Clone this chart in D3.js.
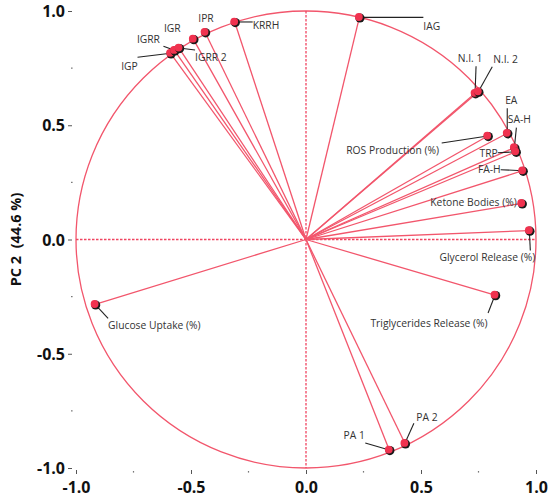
<!DOCTYPE html>
<html>
<head>
<meta charset="utf-8">
<script src="https://cdn.jsdelivr.net/npm/d3@7"></script>
<style>
  body { margin: 0; background: #fff; }
  svg text { font-family: "Open Sans", "Noto Sans", sans-serif; }
</style>
</head>
<body>
<div id="chart"></div>
<script>
  // variable loadings on PC1 / PC2
  var names = ['IGP', 'IGRR', 'IGRR 2', 'IGR', 'IPR', 'KRRH', 'IAG', 'N.I. 1', 'N.I. 2',
               'EA', 'SA-H', 'ROS Production (%)', 'TRP', 'FA-H', 'Ketone Bodies (%)',
               'Glycerol Release (%)', 'Glucose Uptake (%)', 'Triglycerides Release (%)',
               'PA 1', 'PA 2'];
  var pc1 = [-0.589, -0.572, -0.552, -0.490, -0.439, -0.310, 0.232, 0.735, 0.749,
             0.875, 0.906, 0.790, 0.912, 0.942, 0.938, 0.971, -0.917, 0.822, 0.362, 0.430];
  var pc2 = [0.815, 0.828, 0.838, 0.877, 0.907, 0.952, 0.972, 0.640, 0.647,
             0.465, 0.402, 0.453, 0.384, 0.301, 0.158, 0.039, -0.284, -0.243, -0.921, -0.892];
  var tickValues = [-1, -0.5, 0, 0.5, 1];
  var minorTicks = [-0.75, -0.25, 0.25, 0.75];
  var yLabel = 'PC 2  (44.6 %)';

  // label placement, pixels relative to each point: text dx, dy, anchor, leader end (or null)
  var labelPos = [
    [-41, 13, 'middle', [-33, 4]],
    [-26, -11, 'middle', [-11, -4]],
    [16, 9, 'start', [16, 2]],
    [-21, -11, 'middle', null],
    [1, -14, 'middle', null],
    [18, 3, 'start', [18, 0]],
    [64, 9, 'start', [64, 0]],
    [-5, -35, 'middle', [1, -27]],
    [15, -32, 'start', [14, -25]],
    [4, -33, 'middle', [0, -25]],
    [5, -28, 'middle', [2, -20]],
    [-95, 14, 'middle', [-46, 7]],
    [-18, 2, 'end', [-18, 1]],
    [-22, -1, 'end', [-22, -1]],
    [-5, -1, 'end', null],
    [6, 27, 'end', [1, 20]],
    [13, 21, 'start', [13, 14]],
    [-66, 28, 'middle', [-7, 18]],
    [-35, -15, 'middle', [-24, -7]],
    [22, -26, 'middle', [9, -20]]
  ];

  var width = 550, height = 501,
      margin = {top: 11, right: 14, bottom: 33, left: 76},
      red = '#f0324f',
      lineRed = '#f2566c';

  var svg = d3.select('#chart').append('svg')
    .attr('width', width)
    .attr('height', height);

  var x = d3.scaleLinear().domain([-1, 1]).range([margin.left, width - margin.right]),
      y = d3.scaleLinear().domain([-1, 1]).range([height - margin.bottom, margin.top]);

  // axes: major ticks with labels, minor ticks as short marks
  var xAxis = svg.append('g')
    .attr('transform', 'translate(0,' + (y(-1) + 2) + ')')
    .call(d3.axisBottom(x).tickValues(tickValues).tickSize(4).tickPadding(5)
      .tickFormat(d3.format('.1f')));
  var yAxis = svg.append('g')
    .attr('transform', 'translate(' + (x(-1) - 4) + ',0)')
    .call(d3.axisLeft(y).tickValues(tickValues).tickSize(4).tickPadding(3)
      .tickFormat(d3.format('.1f')));
  [xAxis, yAxis].forEach(function(g) {
    g.select('.domain').remove();
    g.selectAll('.tick line').attr('stroke', '#555');
    g.selectAll('.tick text')
      .attr('fill', '#111')
      .style('font-size', '16px')
      .style('font-weight', 'bold')
      .text(function(d) { return d3.format('.1f')(d).replace('−', '-'); });
  });
  xAxis.selectAll('.tick text').attr('dy', '0.85em');
  yAxis.selectAll('.tick text').attr('dy', '0.35em');

  svg.append('g').selectAll('rect.mx')
    .data(minorTicks).enter().append('rect')
    .attr('x', function(d) { return x(d) - 0.6; })
    .attr('y', y(-1) + 3)
    .attr('width', 1.2).attr('height', 1.6)
    .attr('fill', '#777');
  svg.append('g').selectAll('rect.my')
    .data(minorTicks).enter().append('rect')
    .attr('x', x(-1) - 5)
    .attr('y', function(d) { return y(d) - 0.6; })
    .attr('width', 1.6).attr('height', 1.2)
    .attr('fill', '#777');

  svg.append('text')
    .attr('transform', 'translate(21,' + y(0) + ') rotate(-90)')
    .attr('text-anchor', 'middle')
    .style('font-size', '14.5px')
    .style('font-weight', 'bold')
    .style('white-space', 'pre')
    .attr('fill', '#111')
    .text(yLabel);

  // unit correlation circle
  svg.append('ellipse')
    .attr('cx', x(0)).attr('cy', y(0))
    .attr('rx', x(1) - x(0)).attr('ry', y(0) - y(1))
    .attr('fill', 'none')
    .attr('stroke', lineRed)
    .attr('stroke-width', 1.3);

  // dotted zero lines
  svg.append('line')
    .attr('x1', x(-1)).attr('x2', x(1))
    .attr('y1', y(0)).attr('y2', y(0))
    .attr('stroke', '#f04460').attr('stroke-width', 1.4)
    .attr('stroke-dasharray', '2.5,1.5');
  svg.append('line')
    .attr('x1', x(0)).attr('x2', x(0))
    .attr('y1', y(1)).attr('y2', y(-1))
    .attr('stroke', '#f04460').attr('stroke-width', 1.3)
    .attr('stroke-dasharray', '2.5,1.5');

  var data = names.map(function(n, i) {
    return {name: n, x: pc1[i], y: pc2[i], pos: labelPos[i]};
  });

  // vectors from origin
  svg.append('g').selectAll('line')
    .data(data).enter().append('line')
    .attr('x1', x(0)).attr('y1', y(0))
    .attr('x2', function(d) { return x(d.x); })
    .attr('y2', function(d) { return y(d.y); })
    .attr('stroke', lineRed)
    .attr('stroke-width', 1.3);

  // leader lines
  svg.append('g').selectAll('line')
    .data(data.filter(function(d) { return d.pos[3]; })).enter().append('line')
    .attr('x1', function(d) { return x(d.x); })
    .attr('y1', function(d) { return y(d.y); })
    .attr('x2', function(d) { return x(d.x) + d.pos[3][0]; })
    .attr('y2', function(d) { return y(d.y) + d.pos[3][1]; })
    .attr('stroke', '#222')
    .attr('stroke-width', 1.1);

  // points: dark rim under a red disc
  var pts = svg.append('g').selectAll('g')
    .data(data).enter().append('g')
    .attr('transform', function(d) { return 'translate(' + x(d.x) + ',' + y(d.y) + ')'; });
  pts.append('circle')
    .attr('cx', 0.6).attr('cy', 0.6).attr('r', 4.6)
    .attr('fill', '#1a1a1a');
  pts.append('circle')
    .attr('cx', -0.5).attr('cy', -0.4).attr('r', 3.9)
    .attr('fill', red);

  svg.append('g').selectAll('text')
    .data(data).enter().append('text')
    .attr('x', function(d) { return x(d.x) + d.pos[0]; })
    .attr('y', function(d) { return y(d.y) + d.pos[1]; })
    .attr('dy', '0.35em')
    .attr('text-anchor', function(d) { return d.pos[2]; })
    .style('font-size', '10.3px')
    .attr('fill', '#333')
    .text(function(d) { return d.name; });
</script>
</body>
</html>
